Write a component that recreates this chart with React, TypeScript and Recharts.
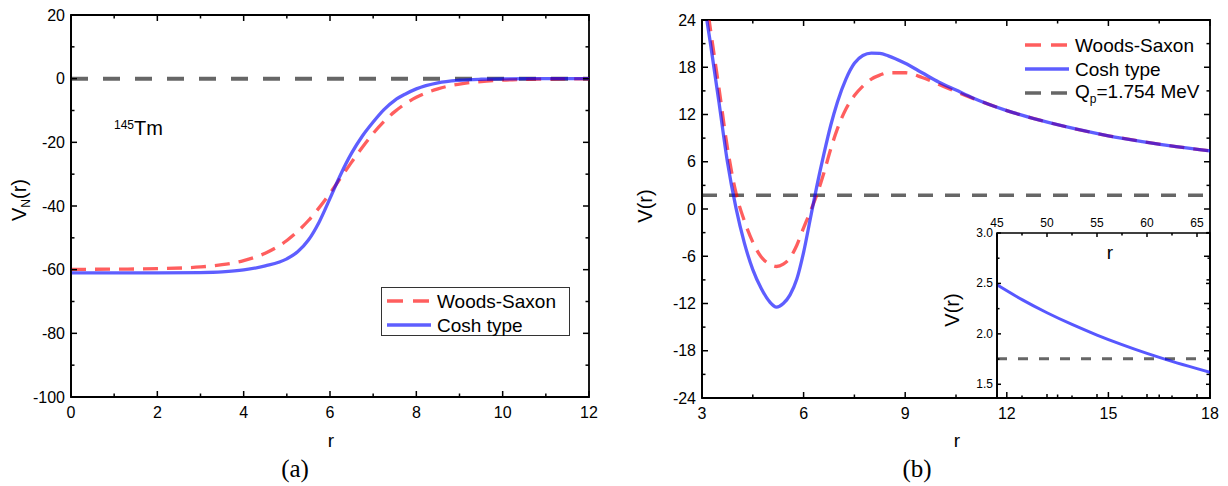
import React from "react";
import { LineChart, Line, XAxis, YAxis, ReferenceLine, ReferenceArea } from "recharts";

// (a) nuclear part V_N(r), 145Tm
const rA = [0, 1, 2, 3, 3.5, 4, 4.5, 5, 5.25, 5.5, 5.75, 6, 6.25, 6.5, 6.75, 7, 7.25, 7.5, 7.75, 8, 8.5, 9, 9.5, 10, 11, 12];
const wsA = [-59.89, -59.84, -59.69, -59.14, -58.45, -57.16, -54.83, -50.83, -48.0, -44.56, -40.51, -35.98, -31.13, -26.23, -21.51, -17.22, -13.47, -10.35, -7.83, -5.85, -3.19, -1.69, -0.89, -0.46, -0.13, -0.03];
const coshA = [-61.0, -61.0, -61.0, -60.9, -60.7, -60.1, -58.8, -56.6, -54.4, -50.7, -45.0, -37.6, -30.0, -23.4, -18.0, -13.6, -9.7, -6.8, -4.8, -3.2, -1.3, -0.5, -0.18, -0.06, 0, 0];

// (b) total potential V(r)
const rB = [3.0, 3.25, 3.5, 3.75, 4.0, 4.25, 4.5, 4.75, 5.0, 5.2, 5.4, 5.6, 5.8, 6.0, 6.2, 6.4, 6.6, 6.8, 7.0, 7.25, 7.5, 7.75, 8.0, 8.25, 8.5, 9.0, 9.5, 10, 10.5, 11, 12, 13, 14, 15, 16, 17, 18];
const wsB = [30.5, 22.8, 15.4, 7.8, 2.1, -1.5, -4.2, -6.1, -7.0, -7.3, -7.0, -6.2, -4.6, -2.4, -0.3, 1.9, 4.6, 7.6, 10.2, 12.7, 14.4, 15.6, 16.5, 17.0, 17.3, 17.3, 16.7, 15.8, 14.9, 14.05, 12.5, 11.25, 10.2, 9.3, 8.57, 7.93, 7.38];
const coshB = [28.0, 21.0, 13.6, 6.0, 0.2, -4.3, -7.7, -10.1, -11.8, -12.45, -12.0, -10.9, -8.9, -5.5, -1.2, 3.1, 7.0, 10.6, 13.6, 16.5, 18.5, 19.5, 19.8, 19.75, 19.45, 18.5, 17.3, 16.1, 15.1, 14.1, 12.5, 11.25, 10.2, 9.3, 8.57, 7.93, 7.38];

// inset of (b), large r
const rInset = [45, 47.5, 50, 52.5, 55, 57.5, 60, 62.5, 65, 66.3];
const coshInset = [2.486, 2.339, 2.209, 2.093, 1.988, 1.893, 1.806, 1.727, 1.655, 1.619];

const qp = 1.754;

const ticksAX = [0, 1, 2, 3, 4, 5, 6, 7, 8, 9, 10, 11, 12];
const labelsAX = [0, 2, 4, 6, 8, 10, 12];
const ticksAY = [20, 10, 0, -10, -20, -30, -40, -50, -60, -70, -80, -90, -100];
const labelsAY = [20, 0, -20, -40, -60, -80, -100];
const ticksBX = [3, 4.5, 6, 7.5, 9, 10.5, 12, 13.5, 15, 16.5, 18];
const labelsBX = [3, 6, 9, 12, 15, 18];
const ticksBY = [24, 21, 18, 15, 12, 9, 6, 3, 0, -3, -6, -9, -12, -15, -18, -21, -24];
const labelsBY = [24, 18, 12, 6, 0, -6, -12, -18, -24];
const ticksIX = [45, 47.5, 50, 52.5, 55, 57.5, 60, 62.5, 65];
const labelsIX = [45, 50, 55, 60, 65];
const ticksIY = [1.5, 1.75, 2.0, 2.25, 2.5, 2.75, 3.0];
const labelsIY = [1.5, 2.0, 2.5, 3.0];

const dataA = rA.map((r, i) => ({ r, ws: wsA[i], cosh: coshA[i] }));
const dataB = rB.map((r, i) => ({ r, ws: wsB[i], cosh: coshB[i] }));
const dataI = rInset.map((r, i) => ({ r, cosh: coshInset[i] }));

const FONT = "'Liberation Sans', Arial, sans-serif";
const RED = "#ff0000";
const BLUE = "#0000ff";
const axisStyle = { stroke: "#000", strokeWidth: 1.8 };

// plot boxes (px): a = 71..589 x 15..397, b = 702..1210 x 20..398, inset = 997..1210 x 233..398
const boxA = { w: 518, h: 382 };
const boxB = { w: 508, h: 378 };
const boxI = { w: 213, h: 165 };

// inward ticks on the axis side, mirrored on the opposite side of the frame
function Tick(props: any) {
  const { x, y, payload, side, labels, span, show = true, labelTop = false, len = 6, minor = 3.5, size = 16, gap = 6, digits = 0 } = props;
  const v = Number(payload.value);
  const major = labels.some((m: number) => Math.abs(m - v) < 1e-6);
  const L = major ? len : minor;
  const txt = digits ? v.toFixed(digits) : String(v);
  const ts = { fontFamily: FONT, fontSize: size, fill: "#000" };
  const ln = { stroke: "#000", strokeWidth: 1.5 };
  if (side === "left")
    return (
      <g>
        <line x1={x} y1={y} x2={x + L} y2={y} {...ln} />
        <line x1={x + span} y1={y} x2={x + span - L} y2={y} {...ln} />
        {major && show && (
          <text x={x - gap} y={y} textAnchor="end" dominantBaseline="central" style={ts}>{txt}</text>
        )}
      </g>
    );
  return (
    <g>
      <line x1={x} y1={y} x2={x} y2={y - L} {...ln} />
      <line x1={x} y1={y - span} x2={x} y2={y - span + L} {...ln} />
      {major && show && (
        <text x={x} y={labelTop ? y - span - gap : y + gap} textAnchor="middle" style={ts}>{txt}</text>
      )}
    </g>
  );
}

const abs = (left: number, top: number): React.CSSProperties => ({ position: "absolute", left, top });

function Title({ x, y, size = 19, rotate = false, serif = false, children }: any) {
  return (
    <div
      style={{
        position: "absolute",
        left: x,
        top: y,
        transform: `translate(-50%, -50%)${rotate ? " rotate(-90deg)" : ""}`,
        fontFamily: serif ? "'Liberation Serif', serif" : FONT,
        fontSize: size,
        whiteSpace: "nowrap",
        lineHeight: 1,
        color: "#000",
      }}
    >
      {children}
    </div>
  );
}

function Sample({ color, dash, opacity }: { color: string; dash?: string; opacity: number }) {
  return (
    <svg width={44} height={8} style={{ display: "block" }}>
      <line x1={0} y1={4} x2={44} y2={4} stroke={color} strokeOpacity={opacity} strokeWidth={3.4} strokeDasharray={dash} />
    </svg>
  );
}

function LegendRow({ x, y, color, dash, opacity, children }: any) {
  return (
    <div style={{ ...abs(x, y - 10), display: "flex", alignItems: "center", height: 20 }}>
      <Sample color={color} dash={dash} opacity={opacity} />
      <span style={{ marginLeft: 6, fontFamily: FONT, fontSize: 19, lineHeight: 1 }}>{children}</span>
    </div>
  );
}

export default function App() {
  return (
    <div style={{ position: "absolute", left: 0, top: 0, width: 1228, height: 486, background: "#fff" }}>
      {/* panel (a) */}
      <div style={abs(0, 0)}>
        <LineChart width={600} height={440} data={dataA} margin={{ top: 15, right: 11, bottom: 0, left: 0 }}>
          <XAxis dataKey="r" type="number" domain={[0, 12]} ticks={ticksAX} interval={0} tickSize={0} tickMargin={0} height={43} axisLine={axisStyle} tickLine={false} tick={<Tick side="bottom" labels={labelsAX} span={boxA.h} gap={21} />} />
          <YAxis type="number" domain={[-100, 20]} ticks={ticksAY} interval={0} tickSize={0} tickMargin={0} width={71} axisLine={axisStyle} tickLine={false} tick={<Tick side="left" labels={labelsAY} span={boxA.w} />} />
          <ReferenceArea x1={0} x2={12} y1={-100} y2={20} fill="none" stroke="#000" strokeWidth={1.8} />
          <ReferenceLine y={0} stroke="#000" strokeOpacity={0.6} strokeWidth={4} strokeDasharray="17 15" />
          <Line dataKey="ws" type="monotone" stroke={RED} strokeOpacity={0.63} strokeWidth={3.3} strokeDasharray="15 9" dot={false} activeDot={false} isAnimationActive={false} />
          <Line dataKey="cosh" type="monotone" stroke={BLUE} strokeOpacity={0.63} strokeWidth={3.3} dot={false} activeDot={false} isAnimationActive={false} />
        </LineChart>
      </div>

      {/* panel (b) */}
      <div style={abs(610, 0)}>
        <LineChart width={610} height={440} data={dataB} margin={{ top: 20, right: 10, bottom: 0, left: 0 }}>
          <XAxis dataKey="r" type="number" domain={[3, 18]} ticks={ticksBX} interval={0} tickSize={0} tickMargin={0} height={42} axisLine={axisStyle} tickLine={false} tick={<Tick side="bottom" labels={labelsBX} span={boxB.h} gap={21} />} />
          <YAxis type="number" domain={[-24, 24]} allowDataOverflow ticks={ticksBY} interval={0} tickSize={0} tickMargin={0} width={92} axisLine={axisStyle} tickLine={false} tick={<Tick side="left" labels={labelsBY} span={boxB.w} />} />
          <ReferenceArea x1={3} x2={18} y1={-24} y2={24} fill="none" stroke="#000" strokeWidth={1.8} />
          <ReferenceLine y={qp} stroke="#000" strokeOpacity={0.6} strokeWidth={3.6} strokeDasharray="15 12" />
          <Line dataKey="ws" type="monotone" stroke={RED} strokeOpacity={0.63} strokeWidth={3.3} strokeDasharray="15 9" dot={false} activeDot={false} isAnimationActive={false} />
          <Line dataKey="cosh" type="monotone" stroke={BLUE} strokeOpacity={0.63} strokeWidth={3.3} dot={false} activeDot={false} isAnimationActive={false} />
        </LineChart>
      </div>

      {/* inset */}
      <div style={abs(930, 200)}>
        <LineChart width={290} height={210} data={dataI} margin={{ top: 33, right: 10, bottom: 11, left: 0 }}>
          <XAxis dataKey="r" type="number" domain={[45, 66.3]} allowDataOverflow ticks={ticksIX} interval={0} tickSize={0} tickMargin={0} height={1} axisLine={false} tickLine={false} tick={<Tick side="bottom" labels={labelsIX} span={boxI.h} labelTop size={12} gap={6} len={4} minor={2.5} />} />
          <YAxis type="number" domain={[1.364, 3.0]} allowDataOverflow ticks={ticksIY} interval={0} tickSize={0} tickMargin={0} width={67} axisLine={axisStyle} tickLine={false} tick={<Tick side="left" labels={labelsIY} span={boxI.w} size={12} gap={4} len={4} minor={2.5} digits={1} />} />
          <ReferenceArea x1={45} x2={66.3} y1={1.364} y2={3.0} fill="none" stroke="#000" strokeWidth={1.6} />
          <ReferenceLine y={qp} stroke="#000" strokeOpacity={0.6} strokeWidth={3} strokeDasharray="10 11" />
          <Line dataKey="cosh" type="monotone" stroke={BLUE} strokeOpacity={0.66} strokeWidth={3} dot={false} activeDot={false} isAnimationActive={false} />
        </LineChart>
      </div>

      {/* texts of (a) */}
      <Title x={20} y={200} size={20} rotate>
        V<sub style={{ fontSize: 12, verticalAlign: "-4px" }}>N</sub>(r)
      </Title>
      <Title x={331} y={440}>r</Title>
      <Title x={295} y={468} size={25} serif>(a)</Title>
      <div style={{ ...abs(114, 118), fontFamily: FONT, color: "#000", lineHeight: 1, whiteSpace: "nowrap" }}>
        <sup style={{ fontSize: 12, verticalAlign: "6px" }}>145</sup>
        <span style={{ fontSize: 20 }}>Tm</span>
      </div>
      <div style={{ ...abs(381, 287), width: 189, height: 49, border: "1px solid #333", boxSizing: "border-box", background: "#fff" }} />
      <LegendRow x={387} y={301} color={RED} dash="16 10" opacity={0.63}>Woods-Saxon</LegendRow>
      <LegendRow x={387} y={325} color={BLUE} opacity={0.63}>Cosh type</LegendRow>

      {/* texts of (b) */}
      <Title x={645} y={206} size={20} rotate>V(r)</Title>
      <Title x={957} y={440}>r</Title>
      <Title x={917} y={468} size={25} serif>(b)</Title>
      <LegendRow x={1025} y={45} color={RED} dash="16 10" opacity={0.63}>Woods-Saxon</LegendRow>
      <LegendRow x={1025} y={69} color={BLUE} opacity={0.63}>Cosh type</LegendRow>
      <LegendRow x={1025} y={93} color="#000" dash="16 10" opacity={0.6}>
        Q<sub style={{ fontSize: 12, verticalAlign: "-5px" }}>p</sub>=1.754 MeV
      </LegendRow>
      <Title x={952} y={310} size={20} rotate>V(r)</Title>
      <Title x={1110} y={252}>r</Title>
    </div>
  );
}
